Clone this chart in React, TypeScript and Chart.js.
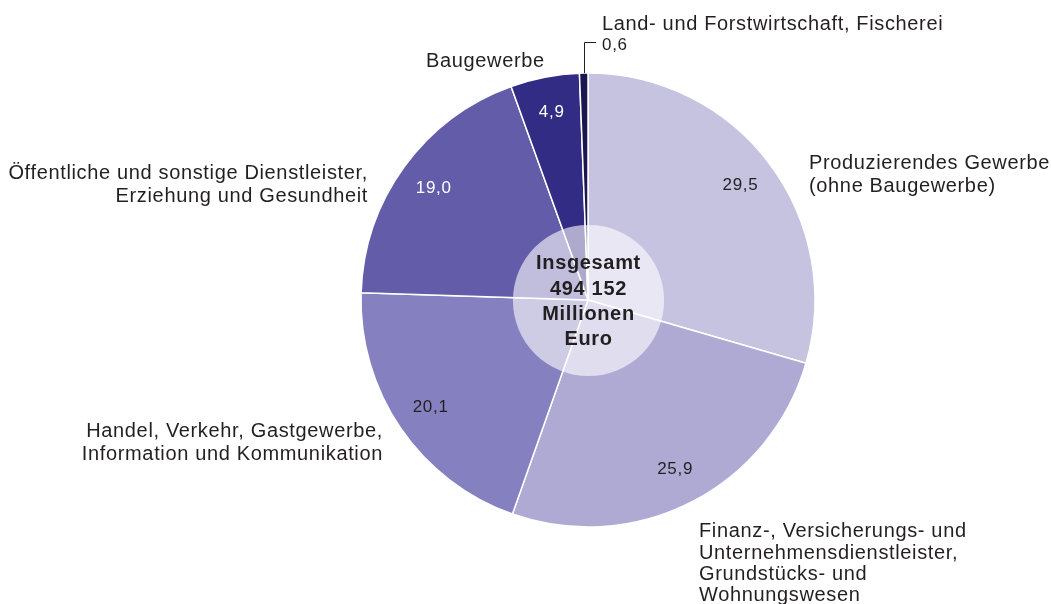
import React, { useEffect, useRef } from 'react';
import { Chart, registerables } from 'chart.js';

Chart.register(...registerables);

// ---- data ----
const categories: string[] = [
  'Produzierendes Gewerbe (ohne Baugewerbe)',
  'Finanz-, Versicherungs- und Unternehmensdienstleister, Grundstücks- und Wohnungswesen',
  'Handel, Verkehr, Gastgewerbe, Information und Kommunikation',
  'Öffentliche und sonstige Dienstleister, Erziehung und Gesundheit',
  'Baugewerbe',
  'Land- und Forstwirtschaft, Fischerei',
];
const shares: number[] = [29.5, 25.9, 20.1, 19.0, 4.9, 0.6];
const valueLabels: string[] = ['29,5', '25,9', '20,1', '19,0', '4,9', '0,6'];
const categoryLines: string[][] = [
  ['Produzierendes Gewerbe', '(ohne Baugewerbe)'],
  ['Finanz-, Versicherungs- und', 'Unternehmensdienstleister,', 'Grundstücks- und', 'Wohnungswesen'],
  ['Handel, Verkehr, Gastgewerbe,', 'Information und Kommunikation'],
  ['Öffentliche und sonstige Dienstleister,', 'Erziehung und Gesundheit'],
  ['Baugewerbe'],
  ['Land- und Forstwirtschaft, Fischerei'],
];
const totalLines: string[] = ['Insgesamt', '494 152', 'Millionen', 'Euro'];

// ---- styles ----
const sliceColors = ['#c6c3e1', '#aeaad4', '#8580bf', '#635da9', '#332c84', '#1b1650'];
const valueColors = ['#231f20', '#231f20', '#231f20', '#ffffff', '#ffffff', '#231f20'];
const textColor = '#231f20';
const FONT = "'Liberation Sans', Arial, Helvetica, sans-serif";

// label placement relative to the pie centre (offsets, baseline of first line)
const labelLayout = [
  { dx: 221, dy: -131, align: 'left', lh: 22.5 },
  { dx: 111, dy: 237.3, align: 'left', lh: 21.3 },
  { dx: -205, dy: 137.3, align: 'right', lh: 22.7 },
  { dx: -220, dy: -121, align: 'right', lh: 23.3 },
  { dx: -162, dy: -233.3, align: 'left', lh: 22 },
  { dx: 14, dy: -270, align: 'left', lh: 22 },
];

const labelPlugin = {
  id: 'pieLabels',
  afterDatasetsDraw(chart: any) {
    const ctx = chart.ctx as CanvasRenderingContext2D;
    const meta = chart.getDatasetMeta(0);
    const first = meta.data[0] as any;
    const cx = first.x;
    const cy = first.y;
    const r = first.outerRadius;

    ctx.save();
    // translucent centre disc
    ctx.beginPath();
    ctx.arc(cx + 0.5, cy + 0.5, r * 0.333, 0, Math.PI * 2);
    ctx.fillStyle = 'rgba(255,255,255,0.6)';
    ctx.fill();

    // values inside slices
    (ctx as any).letterSpacing = '0.7px';
    ctx.font = `17px ${FONT}`;
    ctx.textAlign = 'center';
    ctx.textBaseline = 'middle';
    meta.data.forEach((arc: any, i: number) => {
      if (i === meta.data.length - 1) return;
      const mid = (arc.startAngle + arc.endAngle) / 2;
      const d = r * 0.84;
      ctx.fillStyle = valueColors[i];
      ctx.fillText(valueLabels[i], cx + Math.cos(mid) * d, cy + Math.sin(mid) * d);
    });

    // outside category labels
    (ctx as any).letterSpacing = '0.65px';
    ctx.font = `20px ${FONT}`;
    ctx.textBaseline = 'alphabetic';
    ctx.fillStyle = textColor;
    categoryLines.forEach((lines, i) => {
      const L = labelLayout[i];
      ctx.textAlign = L.align as CanvasTextAlign;
      lines.forEach((t, k) => {
        ctx.fillText(t, cx + L.dx, cy + L.dy + k * L.lh);
      });
    });

    // small slice value with leader line
    const last = meta.data[meta.data.length - 1] as any;
    const lmid = (last.startAngle + last.endAngle) / 2;
    const lx = cx + Math.cos(lmid) * r;
    const ly = cy + Math.sin(lmid) * r;
    ctx.strokeStyle = textColor;
    ctx.lineWidth = 1;
    ctx.beginPath();
    ctx.moveTo(Math.round(lx) + 0.5, ly);
    ctx.lineTo(Math.round(lx) + 0.5, cy - 257.5);
    ctx.lineTo(cx + 8, cy - 257.5);
    ctx.stroke();
    (ctx as any).letterSpacing = '0.7px';
    ctx.font = `17px ${FONT}`;
    ctx.textAlign = 'left';
    ctx.fillText(valueLabels[valueLabels.length - 1], cx + 14, cy - 250.5);

    // centre total
    (ctx as any).letterSpacing = '0.65px';
    ctx.font = `bold 20px ${FONT}`;
    ctx.textAlign = 'center';
    const offs = [-31, -5.5, 20, 45];
    totalLines.forEach((t, k) => {
      ctx.fillText(t, cx + 0.5, cy + offs[k]);
    });
    ctx.restore();
  },
};

export default function App() {
  const ref = useRef<HTMLCanvasElement>(null);
  useEffect(() => {
    document.body.style.margin = '0';
    const chart = new Chart(ref.current as HTMLCanvasElement, {
      type: 'pie',
      data: {
        labels: categories,
        datasets: [
          {
            data: shares,
            backgroundColor: sliceColors,
            borderColor: '#ffffff',
            borderWidth: 1.5,
          },
        ],
      },
      options: {
        responsive: false,
        animation: false,
        radius: 227,
        layout: { padding: { left: 361, right: 236, top: 73, bottom: 77 } },
        plugins: {
          legend: { display: false },
          tooltip: { enabled: false },
          title: { display: false },
        },
      } as any,
      plugins: [labelPlugin],
    });
    return () => chart.destroy();
  }, []);
  return (
    <div style={{ width: 1051, height: 604 }}>
      <canvas ref={ref} width={1051} height={604} style={{ display: 'block' }} />
    </div>
  );
}
